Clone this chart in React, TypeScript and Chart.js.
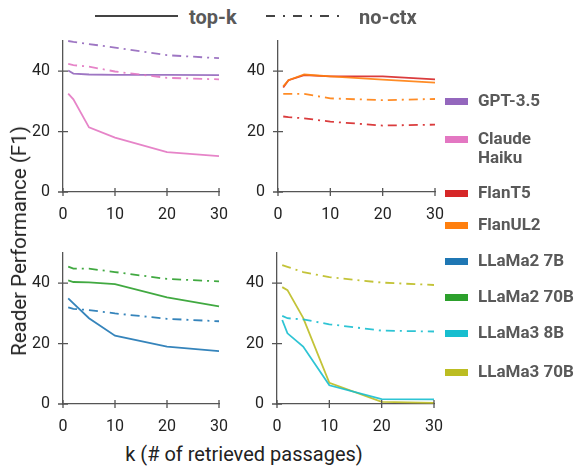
import React, { useEffect, useRef } from "react";
import { Chart, registerables } from "chart.js";

Chart.register(...registerables);

// ---- data ----
const K = [1, 2, 5, 10, 20, 30];
const X_TICKS = [0, 10, 20, 30];
const Y_TICKS = [0, 20, 40];

const gpt35TopK = [40.2, 39.2, 38.9, 38.8, 38.8, 38.7];
const gpt35NoCtx = [50, 49.7, 49, 47.8, 45.3, 44.3];
const claudeTopK = [32.6, 30.7, 21.4, 18, 13.2, 11.9];
const claudeNoCtx = [42.4, 42, 41.5, 39.9, 37.8, 37.3];
const flanT5TopK = [34.6, 37, 38.7, 38.3, 38.3, 37.3];
const flanT5NoCtx = [25, 24.8, 24.4, 23.3, 22, 22.3];
const flanUL2TopK = [35, 37, 38.9, 38.3, 37.2, 36.2];
const flanUL2NoCtx = [32.5, 32.5, 32.5, 31, 30.4, 30.8];
const llama2_7bTopK = [35, 33.3, 28.4, 22.6, 19, 17.5];
const llama2_7bNoCtx = [32, 31.5, 31.1, 30, 28.2, 27.4];
const llama2_70bTopK = [40.9, 40.4, 40.3, 39.7, 35.3, 32.3];
const llama2_70bNoCtx = [45.5, 44.8, 44.8, 43.7, 41.4, 40.6];
const llama3_8bTopK = [27.8, 23.4, 19, 6.2, 1.6, 1.5];
const llama3_8bNoCtx = [29.2, 28.4, 28, 26.4, 24.3, 24];
const llama3_70bTopK = [38.7, 37.7, 28.5, 7, 0.7, 0.4];
const llama3_70bNoCtx = [46, 45.4, 43.7, 42, 40.2, 39.4];

const MODELS = ["GPT-3.5", "Claude\nHaiku", "FlanT5", "FlanUL2", "LLaMa2 7B", "LLaMa2 70B", "LLaMa3 8B", "LLaMa3 70B"];
const COLORS = ["#9467bd", "#e377c2", "#d62728", "#ff7f0e", "#1f77b4", "#2ca02c", "#17becf", "#bcbd22"];
const STYLE_LABELS = ["top-k", "no-ctx"];

const AXIS = "#555555";
const TEXT = "#222222";
const LEG_TEXT = "#595959";
const FONT = "Roboto, 'DejaVu Sans', sans-serif";

type Series = { values: number[]; color: string; dash: boolean };

const PANELS: { left: number; top: number; width: number; series: Series[] }[] = [
  {
    left: 18, top: 33, width: 215,
    series: [
      { values: gpt35NoCtx, color: COLORS[0], dash: true },
      { values: claudeNoCtx, color: COLORS[1], dash: true },
      { values: claudeTopK, color: COLORS[1], dash: false },
      { values: gpt35TopK, color: COLORS[0], dash: false },
    ],
  },
  {
    left: 233, top: 33, width: 216,
    series: [
      { values: flanUL2NoCtx, color: COLORS[3], dash: true },
      { values: flanT5NoCtx, color: COLORS[2], dash: true },
      { values: flanUL2TopK, color: COLORS[3], dash: false },
      { values: flanT5TopK, color: COLORS[2], dash: false },
    ],
  },
  {
    left: 18, top: 245, width: 215,
    series: [
      { values: llama2_70bNoCtx, color: COLORS[5], dash: true },
      { values: llama2_7bNoCtx, color: COLORS[4], dash: true },
      { values: llama2_70bTopK, color: COLORS[5], dash: false },
      { values: llama2_7bTopK, color: COLORS[4], dash: false },
    ],
  },
  {
    left: 232, top: 245, width: 216,
    series: [
      { values: llama3_70bNoCtx, color: COLORS[7], dash: true },
      { values: llama3_8bNoCtx, color: COLORS[6], dash: true },
      { values: llama3_8bTopK, color: COLORS[6], dash: false },
      { values: llama3_70bTopK, color: COLORS[7], dash: false },
    ],
  },
];

const PANEL_H = 193;
const Y_AXIS_W = 45;
const X_AXIS_H = 34;

const inoutTicks = {
  id: "inoutTicks",
  afterDraw(chart: any) {
    const { ctx, chartArea } = chart;
    const x = chart.scales.x;
    const y = chart.scales.y;
    ctx.save();
    ctx.strokeStyle = AXIS;
    ctx.lineWidth = 1.3;
    ctx.beginPath();
    for (const v of X_TICKS) {
      const px = x.getPixelForValue(v);
      ctx.moveTo(px, chartArea.bottom - 4);
      ctx.lineTo(px, chartArea.bottom + 4);
    }
    for (const v of Y_TICKS) {
      const py = y.getPixelForValue(v);
      ctx.moveTo(chartArea.left - 5, py);
      ctx.lineTo(chartArea.left + 5, py);
    }
    ctx.stroke();
    ctx.restore();
  },
};

function Panel({ series, width }: { series: Series[]; width: number }) {
  const ref = useRef<HTMLCanvasElement | null>(null);
  useEffect(() => {
    if (!ref.current) return;
    const chart = new Chart(ref.current, {
      type: "line",
      data: {
        datasets: series.map((s) => ({
          data: K.map((k, i) => ({ x: k, y: s.values[i] })),
          borderColor: s.color + "e6",
          borderWidth: 1.8,
          borderDash: s.dash ? [9, 5, 2, 5] : [],
          pointRadius: 0,
          tension: 0,
          fill: false,
          clip: false,
        })),
      },
      options: {
        responsive: false,
        animation: false,
        events: [],
        layout: { padding: { top: 8, right: 14, left: 0, bottom: 0 } },
        plugins: { legend: { display: false }, tooltip: { enabled: false } },
        scales: {
          x: {
            type: "linear",
            min: 0,
            max: 30,
            afterBuildTicks: (s: any) => {
              s.ticks = X_TICKS.map((v) => ({ value: v }));
            },
            afterFit: (s: any) => {
              s.height = X_AXIS_H;
              s.paddingLeft = 0;
              s.paddingRight = 0;
            },
            grid: { display: false, drawTicks: false },
            border: { color: AXIS, width: 1.3 },
            ticks: { padding: 13, color: TEXT, font: { family: FONT, size: 16 }, maxRotation: 0 },
          },
          y: {
            type: "linear",
            min: 0,
            max: 50,
            afterBuildTicks: (s: any) => {
              s.ticks = Y_TICKS.map((v) => ({ value: v }));
            },
            afterFit: (s: any) => {
              s.width = Y_AXIS_W;
              s.paddingTop = 0;
              s.paddingBottom = 0;
            },
            grid: { display: false, drawTicks: false },
            border: { color: AXIS, width: 1.3 },
            ticks: { padding: 13, color: TEXT, font: { family: FONT, size: 16 } },
          },
        },
      } as any,
      plugins: [inoutTicks],
    });
    return () => chart.destroy();
  }, [series]);
  return <canvas ref={ref} width={width} height={PANEL_H} style={{ width, height: PANEL_H, display: "block" }} />;
}

const LEGEND_Y = [101, 139, 193, 225, 261, 297, 333, 372];

export default function App() {
  return (
    <div style={{ position: "absolute", left: 0, top: 0, width: 574, height: 470, background: "#fff", fontFamily: FONT, overflow: "hidden" }}>
      {PANELS.map((p, i) => (
        <div key={i} style={{ position: "absolute", left: p.left, top: p.top }}>
          <Panel series={p.series} width={p.width} />
        </div>
      ))}

      {/* top style legend */}
      <svg width={574} height={32} style={{ position: "absolute", left: 0, top: 0 }}>
        <line x1={95} y1={16} x2={178} y2={16} stroke="#444" strokeWidth={2} />
        <line x1={266} y1={16} x2={340} y2={16} stroke="#444" strokeWidth={2} strokeDasharray="9 8 2 8" />
      </svg>
      <div style={{ position: "absolute", left: 189, top: 5, lineHeight: "24px", fontSize: 20, fontWeight: 700, color: LEG_TEXT, whiteSpace: "nowrap" }}>{STYLE_LABELS[0]}</div>
      <div style={{ position: "absolute", left: 359, top: 5, lineHeight: "24px", fontSize: 20, fontWeight: 700, color: LEG_TEXT, whiteSpace: "nowrap" }}>{STYLE_LABELS[1]}</div>

      {/* model legend */}
      {MODELS.map((m, i) => (
        <React.Fragment key={m}>
          <div style={{ position: "absolute", left: 445, top: LEGEND_Y[i] - 3, width: 23, height: 7, background: COLORS[i] }} />
          <div style={{ position: "absolute", left: 478, top: LEGEND_Y[i] - 10, lineHeight: "19px", fontSize: 17, fontWeight: 700, color: LEG_TEXT, whiteSpace: "pre" }}>{m}</div>
        </React.Fragment>
      ))}

      {/* axis titles */}
      <div style={{ position: "absolute", left: 244, top: 454, transform: "translate(-50%, -50%)", fontSize: 20, color: TEXT, whiteSpace: "nowrap" }}>k (# of retrieved passages)</div>
      <div style={{ position: "absolute", left: 19, top: 241, transform: "translate(-50%, -50%) rotate(-90deg)", fontSize: 20.5, color: TEXT, whiteSpace: "nowrap" }}>Reader Performance (F1)</div>
    </div>
  );
}
